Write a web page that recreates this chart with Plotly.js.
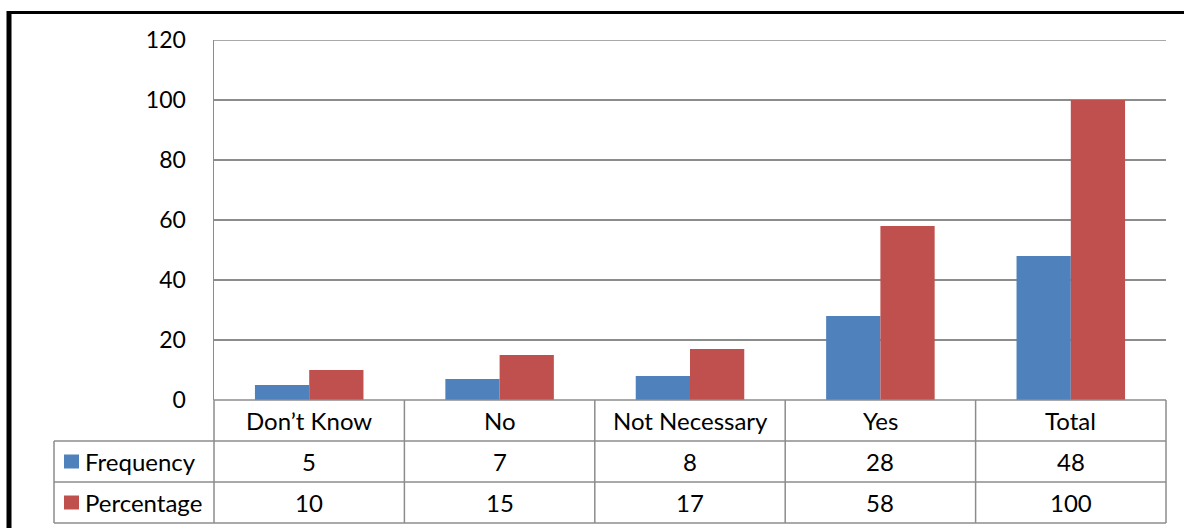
<!DOCTYPE html>
<html><head><meta charset="utf-8">
<script src="https://cdn.plot.ly/plotly-3.0.1.min.js"></script>
<style>html,body{margin:0;padding:0;background:#fff;}#chart{width:1184px;height:528px;}</style>
</head><body><div id="chart"></div>
<script>
const categories = ["Don\u2019t Know", "No", "Not Necessary", "Yes", "Total"];
const frequency = [5, 7, 8, 28, 48];
const percentage = [10, 15, 17, 58, 100];
const seriesNames = ["Frequency", "Percentage"];
const yTicks = [0, 20, 40, 60, 80, 100, 120];

const colors = ["#4F81BD", "#C0504D"];
const FONT = "Lato, 'Open Sans', sans-serif";
const W = 1184, H = 528, L = 214, R = 1166, T = 40, B = 400;
const px = x => (x - L) / (R - L);
const py = y => (B - y) / (B - T);
const grid = "#8c8c8c";
const TF = 24;

const traces = [frequency, percentage].map((vals, i) => ({
  type: "bar", x: categories, y: vals, name: seriesNames[i],
  marker: {color: colors[i], line: {width: 0}}, hoverinfo: "skip"
}));

const shapes = [];
const annotations = [];
// top gridline at axis max
shapes.push({type:"line", xref:"paper", yref:"y", x0:0, x1:1, y0:yTicks[yTicks.length-1], y1:yTicks[yTicks.length-1], line:{color:grid, width:1.5}});
// table horizontal lines
const rowY = [400, 441, 482, 523];
shapes.push({type:"line", xref:"paper", yref:"paper", x0:px(L), x1:px(R), y0:py(rowY[0]), y1:py(rowY[0]), line:{color:grid, width:1.5}});
for (let k = 1; k < rowY.length; k++) {
  shapes.push({type:"line", xref:"paper", yref:"paper", x0:px(54), x1:px(R), y0:py(rowY[k]), y1:py(rowY[k]), line:{color:grid, width:1.5}});
}
// vertical table lines
const n = categories.length;
for (let i = 0; i <= n; i++) {
  shapes.push({type:"line", xref:"paper", yref:"paper", x0:i/n, x1:i/n, y0:py(400), y1:py(523), line:{color:grid, width:1.5}});
}
shapes.push({type:"line", xref:"paper", yref:"paper", x0:px(54), x1:px(54), y0:py(441), y1:py(523), line:{color:grid, width:1.5}});
// outer black frame
shapes.push({type:"line", xref:"paper", yref:"paper", x0:px(7), x1:px(1190), y0:py(12.5), y1:py(12.5), line:{color:"#000", width:3}});
shapes.push({type:"line", xref:"paper", yref:"paper", x0:px(9), x1:px(9), y0:py(11), y1:py(535), line:{color:"#000", width:5}});

// category labels
categories.forEach((c, i) => {
  annotations.push({xref:"x", yref:"paper", x:c, y:py(420), text:c, showarrow:false, xanchor:"center", yanchor:"middle", font:{family:FONT, size:TF, color:"#000"}});
});
// data rows
[frequency, percentage].forEach((vals, r) => {
  const yc = (rowY[r+1] + rowY[r+2]) / 2;
  shapes.push({type:"rect", xref:"paper", yref:"paper", x0:px(64), x1:px(79), y0:py(yc-7), y1:py(yc+7), fillcolor:colors[r], line:{width:0}});
  annotations.push({xref:"paper", yref:"paper", x:px(83), y:py(yc), text:seriesNames[r], showarrow:false, xanchor:"left", yanchor:"middle", font:{family:FONT, size:TF, color:"#000"}});
  vals.forEach((v, i) => {
    annotations.push({xref:"x", yref:"paper", x:categories[i], y:py(yc), text:String(v), showarrow:false, xanchor:"center", yanchor:"middle", font:{family:FONT, size:TF, color:"#000"}});
  });
});

const layout = {
  width: W, height: H,
  margin: {l: L, r: W - R, t: T, b: H - B, pad: 0},
  paper_bgcolor: "#fff", plot_bgcolor: "#fff",
  barmode: "group", bargap: 0.43, bargroupgap: 0,
  showlegend: false,
  xaxis: {type:"category", showticklabels:false, showgrid:false, zeroline:false, showline:false, ticks:""},
  yaxis: {range:[0,120], tickvals:yTicks, ticktext:yTicks.map(String), showgrid:true, gridcolor:grid, gridwidth:1.5,
          zeroline:false, showline:true, linecolor:grid, linewidth:1.5, ticks:"", ticklabelstandoff:22,
          tickfont:{family:FONT, size:23, color:"#000"}},
  shapes, annotations
};
Plotly.newPlot("chart", traces, layout, {staticPlot:true, displayModeBar:false});
</script></body></html>
